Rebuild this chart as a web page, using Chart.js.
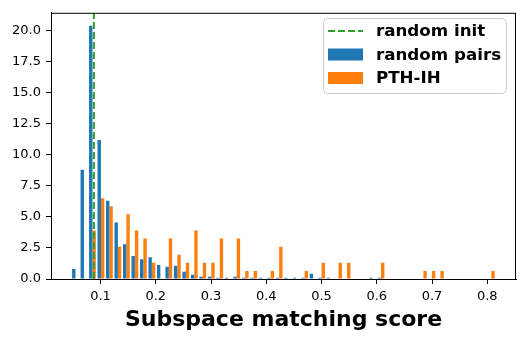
<!DOCTYPE html>
<html>
<head>
<meta charset="utf-8">
<script src="https://cdn.jsdelivr.net/npm/chart.js@4.4.1/dist/chart.umd.min.js"></script>
<style>
  body { margin: 0; background: #fff; }
  canvas { display: block; }
</style>
</head>
<body>
<canvas id="histChart" width="525" height="341"></canvas>
<script>
// bin centres of the 50 histogram bins (shared by both series)
const binCenters = [
  0.05468, 0.07004, 0.08540, 0.10076, 0.11612, 0.13148, 0.14684, 0.16220, 0.17756, 0.19292,
  0.20828, 0.22364, 0.23900, 0.25436, 0.26972, 0.28508, 0.30044, 0.31580, 0.33116, 0.34652,
  0.36188, 0.37724, 0.39260, 0.40796, 0.42332, 0.43868, 0.45404, 0.46940, 0.48476, 0.50012,
  0.51548, 0.53084, 0.54620, 0.56156, 0.57692, 0.59228, 0.60764, 0.62300, 0.63836, 0.65372,
  0.66908, 0.68444, 0.69980, 0.71516, 0.73052, 0.74588, 0.76124, 0.77660, 0.79196, 0.80732
];

// density values
const randomPairs = [
  0.8, 8.8, 20.4, 11.2, 6.3, 4.55, 2.8, 1.85, 1.6, 1.75,
  1.13, 0.98, 1.06, 0.58, 0.34, 0.18, 0.18, 0.1, 0.1, 0.18,
  0.1, 0.1, 0.1, 0.1, 0.1, 0.1, 0.1, 0.1, 0.42, 0.1,
  0.1, 0, 0, 0, 0, 0.1, 0.1, 0, 0, 0,
  0, 0, 0, 0, 0, 0, 0, 0, 0, 0
];
const pthIH = [
  0, 0, 3.91, 6.51, 5.86, 2.60, 5.21, 3.91, 3.26, 1.30,
  0, 3.26, 1.95, 1.30, 3.91, 1.30, 1.30, 3.26, 0, 3.26,
  0.65, 0.65, 0, 0.65, 2.60, 0, 0, 0.65, 0, 1.30,
  0, 1.30, 1.30, 0, 0, 0, 1.30, 0, 0, 0,
  0, 0.65, 0.65, 0.65, 0, 0, 0, 0, 0, 0.65
];

const randomInit = 0.088;
const xRange = [0.0104, 0.852];
const yRange = [0, 21.45];
const xTicks = [0.1, 0.2, 0.3, 0.4, 0.5, 0.6, 0.7, 0.8];
const yTicks = [0, 2.5, 5, 7.5, 10, 12.5, 15, 17.5, 20];

const legendItems = [
  { label: 'random init', color: '#2ca02c', kind: 'line' },
  { label: 'random pairs', color: '#1f77b4', kind: 'box' },
  { label: 'PTH-IH', color: '#ff7f0e', kind: 'box' }
];

function toPoints(values) {
  return values.map((v, i) => ({ x: binCenters[i], y: v }));
}

// frame round the plot + matplotlib style legend box
const framePlugin = {
  id: 'frame',
  afterDraw(chart) {
    const { ctx, chartArea: a } = chart;
    ctx.save();
    ctx.strokeStyle = '#000';
    ctx.lineWidth = 1;
    ctx.strokeRect(a.left + 0.5, a.top + 0.5, a.right - a.left - 1, a.bottom - a.top);

    // legend
    const bx = 323.5, by = 18.5, bw = 183, bh = 75;
    ctx.beginPath();
    ctx.roundRect(bx, by, bw, bh, 4);
    ctx.fillStyle = 'rgba(255,255,255,0.8)';
    ctx.fill();
    ctx.strokeStyle = '#cccccc';
    ctx.stroke();

    ctx.font = 'bold 16.7px "DejaVu Sans"';
    ctx.textBaseline = 'middle';
    legendItems.forEach((item, i) => {
      const cy = 31 + i * 23.5;
      if (item.kind === 'line') {
        ctx.strokeStyle = item.color;
        ctx.lineWidth = 2;
        ctx.setLineDash([7, 3]);
        ctx.beginPath();
        ctx.moveTo(328, cy);
        ctx.lineTo(363, cy);
        ctx.stroke();
        ctx.setLineDash([]);
      } else {
        ctx.fillStyle = item.color;
        ctx.fillRect(328, cy - 6, 35, 12);
      }
      ctx.fillStyle = '#000';
      ctx.fillText(item.label, 376, cy + 1);
    });
    ctx.restore();
  }
};

const ctx = document.getElementById('histChart').getContext('2d');
new Chart(ctx, {
  type: 'bar',
  data: {
    datasets: [
      {
        type: 'line',
        label: 'random init',
        data: [{ x: randomInit, y: yRange[0] }, { x: randomInit, y: yRange[1] }],
        borderColor: '#2ca02c',
        borderWidth: 2,
        borderDash: [7, 3],
        pointRadius: 0,
        order: -1
      },
      {
        label: 'random pairs',
        data: toPoints(randomPairs),
        backgroundColor: '#1f77b4',
        borderWidth: 0,
        categoryPercentage: 0.8,
        barPercentage: 1.0,
        order: 1
      },
      {
        label: 'PTH-IH',
        data: toPoints(pthIH),
        backgroundColor: '#ff7f0e',
        borderWidth: 0,
        categoryPercentage: 0.8,
        barPercentage: 1.0,
        order: 1
      }
    ]
  },
  options: {
    responsive: false,
    animation: false,
    devicePixelRatio: 1,
    layout: { padding: { left: 0, right: 9, top: 9, bottom: 0 } },
    plugins: {
      legend: { display: false },
      tooltip: { enabled: false }
    },
    scales: {
      x: {
        type: 'linear',
        min: xRange[0],
        max: xRange[1],
        offset: false,
        afterBuildTicks: s => { s.ticks = xTicks.map(v => ({ value: v })); },
        afterFit: s => { s.height = 62; },
        grid: { offset: false, drawOnChartArea: false, drawTicks: true, tickLength: 5, color: '#000', tickWidth: 1 },
        border: { display: true, color: '#000', width: 1 },
        ticks: {
          color: '#000',
          padding: 5,
          font: { family: 'DejaVu Sans', size: 13 },
          callback: v => v.toFixed(1),
          maxRotation: 0
        },
        title: {
          display: true,
          text: 'Subspace matching score',
          color: '#000',
          font: { family: 'DejaVu Sans', size: 22, weight: 'bold' },
          padding: { top: 0, bottom: 8 }
        }
      },
      y: {
        min: yRange[0],
        max: yRange[1],
        afterBuildTicks: s => { s.ticks = yTicks.map(v => ({ value: v })); },
        afterFit: s => { s.width = 51; },
        grid: { offset: false, drawOnChartArea: false, drawTicks: true, tickLength: 5, color: '#000', tickWidth: 1 },
        border: { display: true, color: '#000', width: 1 },
        ticks: {
          color: '#000',
          padding: 5,
          font: { family: 'DejaVu Sans', size: 13 },
          callback: v => v.toFixed(1)
        }
      }
    }
  },
  plugins: [framePlugin]
});
</script>
</body>
</html>
